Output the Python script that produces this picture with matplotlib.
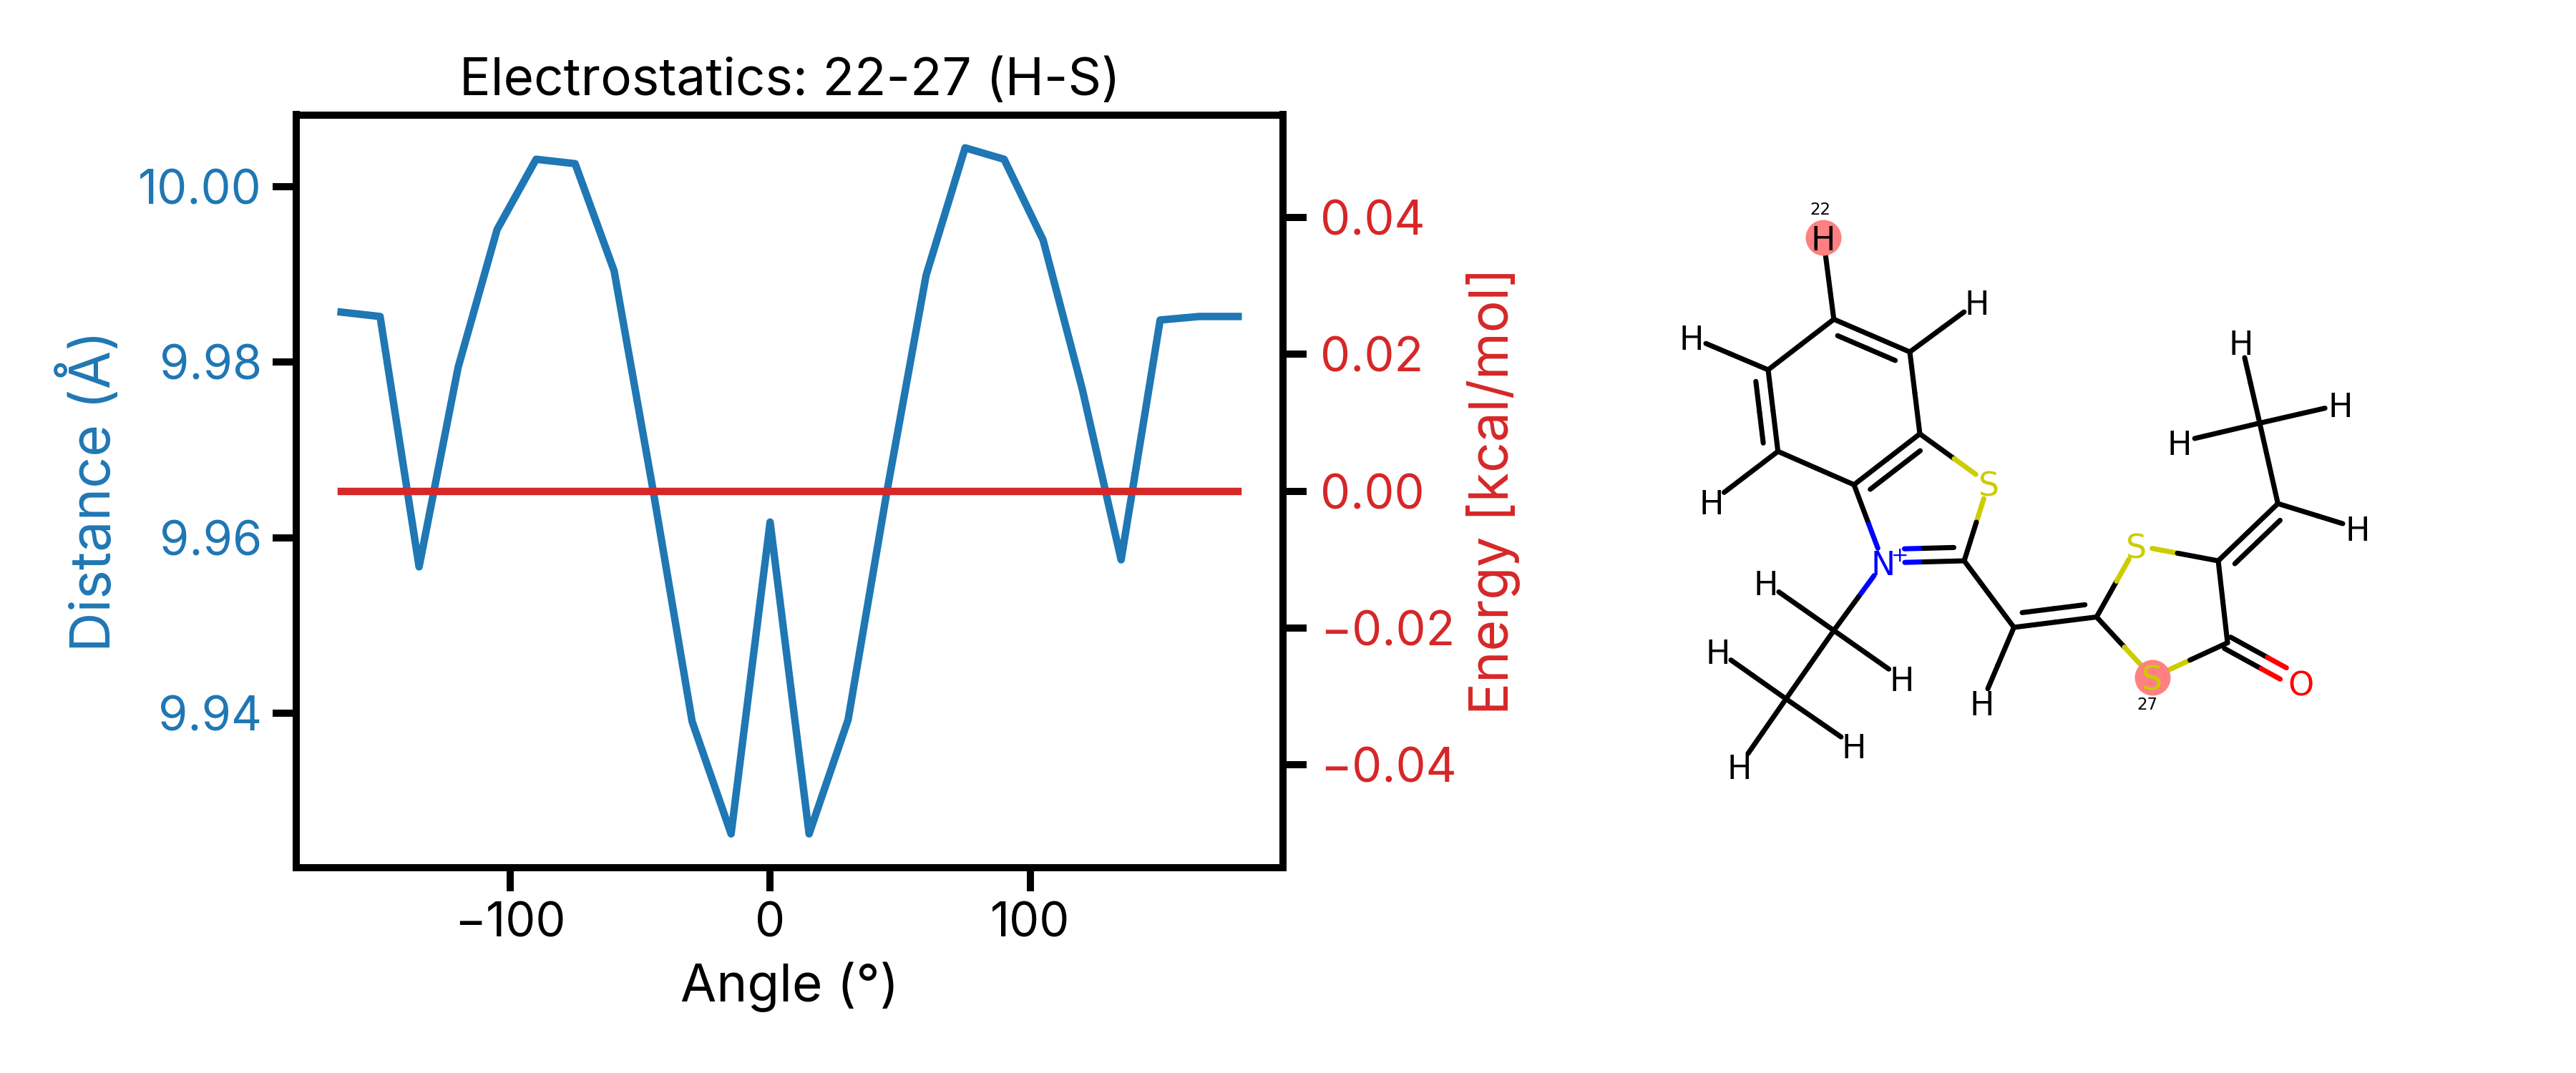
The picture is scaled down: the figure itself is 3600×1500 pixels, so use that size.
import matplotlib
matplotlib.use("Agg")
import matplotlib.pyplot as plt

plt.rcParams["font.family"] = ["Inter", "DejaVu Sans"]

angles = [-165, -150, -135, -120, -105, -90, -75, -60, -45, -30, -15, 0,
          15, 30, 45, 60, 75, 90, 105, 120, 135, 150, 165, 180]
distance = [9.9857, 9.9852, 9.9567, 9.9794, 9.9951, 10.0031, 10.0026, 9.9904,
            9.9654, 9.9391, 9.9263, 9.9618, 9.9263, 9.9393, 9.9654, 9.9899,
            10.0044, 10.0031, 9.9939, 9.9770, 9.9575, 9.9848, 9.9852, 9.9852]
energy = [0.0] * len(angles)
x_ticks = [-100, 0, 100]
dist_ticks = [9.94, 9.96, 9.98, 10.00]
energy_ticks = [-0.04, -0.02, 0.00, 0.02, 0.04]

# molecule, atom positions
atom_names = ["C1", "C2", "C3", "C4", "C5", "C6", "S1", "N", "C7", "C8", "C9", "S2", "S3",
              "C10", "C11", "O", "C12", "C13", "C14", "C15",
              "H22", "Ha", "Hb", "Hc", "Hd", "He", "Hf", "Hg", "Hh", "Hi", "Hj", "Hk", "Hl", "Hm"]
atom_x = [362.8, 469, 483, 391, 284.7, 271, 579, 432, 545, 614.5, 730, 786, 808,
          900, 913, 1015.5, 983.4, 958, 362.8, 296,
          348, 562.5, 163.8, 192, 569.4, 932, 1070.6, 845.7, 1095, 267.9, 457.6, 201, 391, 230.4]
atom_y = [196.3, 242, 356.5, 427.6, 381, 267, 426, 537, 534, 627, 612.5, 512.6, 697,
          534, 648.6, 705, 454, 341.5, 631.4, 727,
          82, 173, 221.6, 451.7, 733, 228.5, 315.7, 368, 488.5, 564.8, 698, 660, 792.7, 821.4]
single_bonds = [("C1", "C6"), ("C2", "C3"), ("C4", "C5"), ("C3", "S1"), ("S1", "C7"), ("C4", "N"),
                ("C7", "C8"), ("C9", "S2"), ("C9", "S3"), ("S2", "C10"), ("S3", "C11"), ("C10", "C11"),
                ("C12", "C13"), ("N", "C14"), ("C14", "C15"),
                ("C1", "H22"), ("C2", "Ha"), ("C6", "Hb"), ("C5", "Hc"), ("C8", "Hd"),
                ("C13", "He"), ("C13", "Hf"), ("C13", "Hg"), ("C12", "Hh"),
                ("C14", "Hi"), ("C14", "Hj"), ("C15", "Hk"), ("C15", "Hl"), ("C15", "Hm")]
double_bonds = [("C1", "C2", 1), ("C3", "C4", -1), ("C5", "C6", -1), ("N", "C7", -1),
                ("C8", "C9", -1), ("C10", "C12", 1), ("C11", "O", 0)]
highlighted = ["H22", "S3"]
atom_notes = [("22", 344, 43.6), ("27", 801, 735)]

fig = plt.figure(figsize=(12, 5), dpi=300)
ax1 = fig.add_axes([414 / 3600, 1 - 1213 / 1500, (1793 - 414) / 3600, (1213 - 160.5) / 1500])

ax1.plot(angles, distance, color="tab:blue", lw=2.5)
ax1.set_ylim(9.92245, 10.00816)
ax1.set_xticks(x_ticks)
ax1.set_yticks(dist_ticks)
ax1.set_yticklabels(["%.2f" % v for v in dist_ticks])
ax1.set_xlabel("Angle (°)", fontsize=17.5, labelpad=5)
ax1.set_ylabel("Distance (Å)", fontsize=18.5, color="tab:blue", labelpad=5.5)
ax1.set_title("Electrostatics: 22-27 (H-S)", fontsize=17.5, pad=6.5)
ax1.tick_params(axis="y", labelcolor="tab:blue", labelsize=16, width=2.4, length=8)
ax1.tick_params(axis="x", labelsize=16, width=2.4, length=8)

ax2 = ax1.twinx()
ax2.plot(angles, energy, color="tab:red", lw=2.5)
ax2.set_yticks(energy_ticks)
ax2.set_yticklabels([("%.2f" % v).replace("-", "\u2212") for v in energy_ticks])
ax2.set_ylabel("Energy [kcal/mol]", fontsize=18, color="tab:red", labelpad=3)
ax2.tick_params(axis="y", labelcolor="tab:red", labelsize=16, width=2.4, length=8, pad=4.5)
for ax in (ax1, ax2):
    for s in ax.spines.values():
        s.set_linewidth(2.4)

# molecule panel, units are pixels of the picture
mol = fig.add_axes([2200 / 3600, 1 - 1150 / 1500, 1200 / 3600, 900 / 1500])
mol.set_xlim(0, 1200)
mol.set_ylim(900, 0)
mol.axis("off")

colors = {"S": "#CCCC00", "N": "#0000FF", "O": "#FF0000", "C": "black", "H": "black"}
pos = dict(zip(atom_names, zip(atom_x, atom_y)))
GAP = 22
BOND_LW = 1.7


def half_bond(p, q, a, b, shrink_a=0.0, shrink_b=0.0):
    # two coloured halves, cut back where the atom has a label
    length = ((q[0] - p[0]) ** 2 + (q[1] - p[1]) ** 2) ** 0.5
    ux, uy = (q[0] - p[0]) / length, (q[1] - p[1]) / length
    mid = ((p[0] + q[0]) / 2, (p[1] + q[1]) / 2)
    start = (p[0] + ux * shrink_a, p[1] + uy * shrink_a)
    end = (q[0] - ux * shrink_b, q[1] - uy * shrink_b)
    mol.plot([start[0], mid[0]], [start[1], mid[1]], color=colors[a[0]], lw=BOND_LW, solid_capstyle="round")
    mol.plot([mid[0], end[0]], [mid[1], end[1]], color=colors[b[0]], lw=BOND_LW, solid_capstyle="round")


def gap_of(name):
    return 0 if name[0] == "C" else GAP


def shifted(p, q, off):
    length = ((q[0] - p[0]) ** 2 + (q[1] - p[1]) ** 2) ** 0.5
    nx, ny = -(q[1] - p[1]) / length, (q[0] - p[0]) / length
    return (p[0] + nx * off, p[1] + ny * off), (q[0] + nx * off, q[1] + ny * off)


for a, b in single_bonds:
    half_bond(pos[a], pos[b], a, b, gap_of(a), gap_of(b))

for a, b, side in double_bonds:
    p, q = pos[a], pos[b]
    if side == 0:
        for off in (-9, 9):
            p2, q2 = shifted(p, q, off)
            half_bond(p2, q2, a, b, gap_of(a), gap_of(b) + 6)
    else:
        half_bond(p, q, a, b, gap_of(a) + (8 if a == "N" else 0), gap_of(b))
        p2, q2 = shifted(p, q, 19 * side)
        trim_a = gap_of(a) + 8 if a == "N" else 14
        half_bond(p2, q2, a, b, trim_a, 14)

hl_x = [pos[n][0] for n in highlighted]
hl_y = [pos[n][1] for n in highlighted]
mol.scatter(hl_x, hl_y, s=144, color="#FF8080", linewidths=0, zorder=3)

for name, x, y in zip(atom_names, atom_x, atom_y):
    if name[0] == "C":
        continue
    mol.text(x, y, name[0], color=colors[name[0]], fontsize=11, family="DejaVu Sans",
             ha="center", va="center_baseline", zorder=4)
mol.text(pos["N"][0] + 23, pos["N"][1] - 10, "+", color=colors["N"], fontsize=7, family="DejaVu Sans",
         ha="center", va="center", zorder=4)
for label, x, y in atom_notes:
    mol.text(x, y, label, fontsize=5.5, family="DejaVu Sans", ha="center", va="center", zorder=4)

plt.savefig("out.png", dpi=300)
